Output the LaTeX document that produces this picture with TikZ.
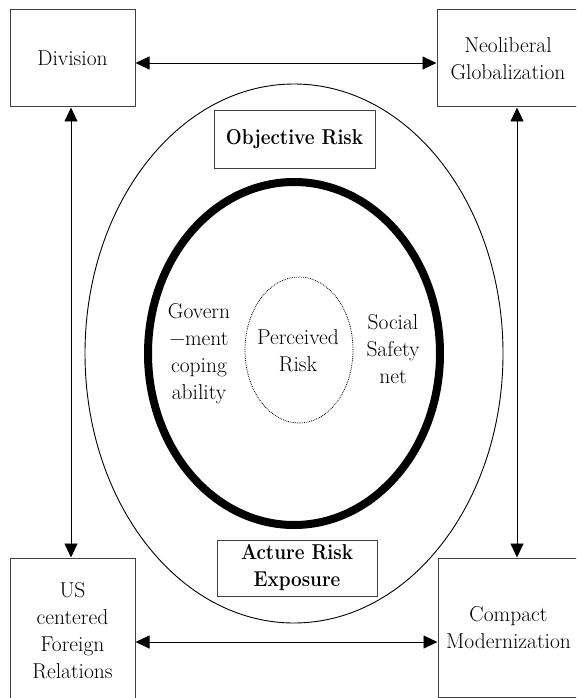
\documentclass[tikz,border=0pt]{standalone}
\usepackage{fontspec}
\usetikzlibrary{arrows.meta,shapes.geometric}
\newcommand\sqzline[1]{\scalebox{0.88}[1]{#1}}
\tikzset{
  box/.style={draw=black!75, line width=1pt, rectangle, inner sep=0pt, align=center},
  lbl/.style={align=center, inner sep=0pt},
  arr/.style={line width=0.9pt, {Triangle[length=14pt,width=13pt]}-{Triangle[length=14pt,width=13pt]}},
  txt/.style={font=\fontsize{21.5}{27}\selectfont},
  btxt/.style={font=\fontsize{21.5}{27}\selectfont\bfseries}
}
\begin{document}
\begin{tikzpicture}[x=1pt,y=-1pt]
\useasboundingbox (0,0) rectangle (576,698);
\clip (0,0) rectangle (576,698);
% ellipses
\node[ellipse, draw, line width=0.9pt, minimum width=418pt, minimum height=539pt, inner sep=0pt] (outer) at (294,353.5) {};
\node[ellipse, draw, line width=8pt, minimum width=292pt, minimum height=343pt, inner sep=0pt] (thick) at (294,353.5) {};
\node[ellipse, draw, densely dotted, line width=0.8pt, minimum width=108pt, minimum height=146pt, inner sep=0pt] (dot) at (299,350) {};
% corner boxes
\node[box, txt, minimum width=125pt, minimum height=97pt] (div) at (72.5,58.5) {Division};
\node[box, minimum width=163pt, minimum height=97pt] (neo) at (518.5,58.5) {};
\node[lbl, txt] (neot) at (508,58.5) {Neoliberal\\Globalization};
\node[box, txt, minimum width=125pt, minimum height=146pt] (us) at (72.5,631) {US\\centered\\Foreign\\Relations};
\node[box, minimum width=162pt, minimum height=139pt] (comp) at (519,627.5) {};
\node[lbl, txt] (compt) at (508.5,627.5) {Compact\\Modernization};
% inner boxes
\node[box, btxt, minimum width=161pt, minimum height=57pt] (obj) at (294.5,139.5) {\sqzline{Objective Risk}};
\node[box, btxt, minimum width=160pt, minimum height=56pt] (act) at (297,568) {\sqzline{Acture Risk}\\\sqzline{Exposure}};
% inner texts
\node[lbl, txt] (gov) at (199,354) {Govern\\−ment\\coping\\ability};
\node[lbl, txt] (per) at (298,351) {Perceived\\Risk};
\node[lbl, txt] (soc) at (393,349.5) {Social\\Safety\\net};
% arrows
\coordinate (t1) at ([yshift=-4.5pt]div.east);
\draw[arr] (t1) -- (t1 -| neo.west);
\coordinate (b1) at ([yshift=-11pt]us.east);
\draw[arr] (b1) -- (b1 -| comp.west);
\coordinate (l1) at ([xshift=-1.5pt]div.south);
\draw[arr] (l1) -- (l1 |- us.north);
\coordinate (r1) at ([xshift=-1.5pt]neo.south);
\draw[arr] (r1) -- (r1 |- comp.north);
\end{tikzpicture}
\end{document}
